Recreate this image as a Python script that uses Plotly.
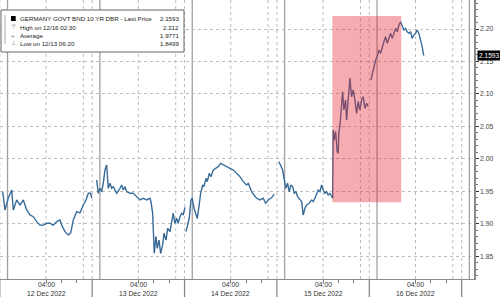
import plotly.graph_objects as go

# hours since 12 Dec 2022 00:00 and yield values (%), one list per session
hrs_d12 = [-7.25, -6.65, -5.79, -4.91, -4.49, -3.61, -2.75, -1.9, -1.01, -0.16, 0.7, 1.58, 2.44, 3.3,
           4.18, 5.04, 5.9, 6.78, 7.64, 8.08, 8.94, 9.79, 10.42, 11.09, 11.97, 12.83, 13.69, 14.39,
           14.99, 15.6, 15.87]
yld_d12 = [1.9495, 1.9213, 1.9398, 1.9521, 1.9213, 1.9367, 1.929, 1.9367, 1.9213, 1.9136, 1.911, 1.9033,
           1.898, 1.898, 1.9008, 1.9008, 1.898, 1.9033, 1.9059, 1.898, 1.8879, 1.8828, 1.886, 1.906,
           1.9187, 1.9167, 1.929, 1.9367, 1.947, 1.947, 1.9398]

hrs_d13 = [17.17, 17.58, 18.03, 18.47, 18.88, 19.32, 19.77, 19.92, 20.18, 20.62, 21.06, 21.48, 21.92,
           22.36, 23.22, 23.66, 24.08, 24.52, 24.96, 25.82, 26.68, 27.56, 28.42, 29.27, 30.16, 31.01,
           31.27, 31.71, 31.87, 32.13, 32.57, 32.91, 33.35, 33.79, 34.31, 34.65, 35.17, 35.61, 36.21,
           36.65, 37.06, 37.51, 37.95, 38.36, 38.81, 39.25, 39.66, 40.1]
yld_d13 = [1.9675, 1.947, 1.9547, 1.9495, 1.9624, 1.9829, 1.9906, 1.9726, 1.9547, 1.9624, 1.9547, 1.9572,
           1.952, 1.947, 1.9547, 1.9598, 1.952, 1.9572, 1.9495, 1.947, 1.947, 1.9418, 1.9367, 1.9393,
           1.9367, 1.9393, 1.934, 1.9162, 1.8905, 1.8546, 1.8802, 1.8623, 1.875, 1.8546, 1.8674, 1.8854,
           1.875, 1.8931, 1.8879, 1.9008, 1.9162, 1.9008, 1.9085, 1.9008, 1.911, 1.9162, 1.9136, 1.9254]

hrs_d14 = [40.36, 40.81, 41.22, 41.66, 42.0, 42.44, 42.96, 43.3, 43.74, 44.18, 44.7, 45.04, 45.56, 45.9,
           46.42, 46.86, 47.45, 48.16, 48.75, 49.38, 50.05, 50.94, 51.79, 52.65, 53.53, 54.39, 55.25,
           56.13, 56.55, 57.43, 58.03, 58.73, 59.58, 60.44, 61.06, 61.74, 62.36, 62.88, 63.22]
yld_d14 = [1.8879, 1.9008, 1.9085, 1.9367, 1.9393, 1.924, 1.9162, 1.9085, 1.9264, 1.947, 1.9598, 1.9572,
           1.97, 1.9649, 1.9778, 1.9726, 1.9829, 1.9855, 1.988, 1.9932, 1.9906, 1.988, 1.9855, 1.9829,
           1.9778, 1.9726, 1.9649, 1.9598, 1.9624, 1.9495, 1.9444, 1.9393, 1.9367, 1.9393, 1.9316,
           1.9367, 1.9393, 1.9418, 1.9459]

hrs_d15 = [64.52, 64.96, 65.48, 65.9, 66.34, 66.78, 67.19, 67.64, 68.08, 68.49, 68.94, 69.38, 69.97,
           70.42, 70.83, 71.27, 71.71, 72.39, 73.01, 73.43, 73.87, 74.31, 74.73, 75.17, 75.61, 76.03,
           76.47, 76.91, 77.32, 77.77, 78.21, 78.47, 78.62, 78.88, 79.25, 79.66, 79.92, 80.1, 80.36,
           80.81, 81.06, 81.4, 81.84, 82.1, 82.52, 82.96, 83.4, 83.82, 84.26, 84.7, 85.12, 85.56, 86.0,
           86.42, 86.86, 87.3, 87.71]
yld_d15 = [1.9957, 1.9906, 1.9829, 1.9675, 1.9547, 1.9624, 1.9495, 1.9598, 1.9572, 1.947, 1.9495, 1.9418,
           1.9367, 1.9342, 1.9136, 1.924, 1.929, 1.9316, 1.9367, 1.9342, 1.9393, 1.947, 1.952, 1.9495,
           1.9598, 1.952, 1.947, 1.9495, 1.9444, 1.947, 1.9418, 1.9393, 2.0445, 2.0291, 2.0419, 2.0111,
           2.0086, 2.0419, 2.0496, 2.0804, 2.1034, 2.0753, 2.0907, 2.0599, 2.0958, 2.1241, 2.0958,
           2.1061, 2.0907, 2.0702, 2.0881, 2.0753, 2.0907, 2.0958, 2.0779, 2.0856, 2.0804]

hrs_d16 = [88.42, 88.86, 89.19, 89.64, 90.05, 90.49, 90.93, 91.35, 91.79, 92.23, 92.65, 93.09, 93.53,
           93.95, 94.39, 94.83, 95.25, 95.69, 96.13, 96.55, 96.99, 97.43, 97.84, 98.29, 98.73, 99.14,
           99.58, 100.03, 100.44, 100.88, 101.32, 101.74, 102.0, 102.18]
yld_d16 = [2.1215, 2.1342, 2.142, 2.1523, 2.1574, 2.1677, 2.1626, 2.1728, 2.1804, 2.1881, 2.178, 2.1857,
           2.1933, 2.1857, 2.1933, 2.201, 2.1958, 2.2062, 2.2112, 2.2062, 2.1985, 2.201, 2.1958, 2.1933,
           2.1958, 2.1857, 2.1908, 2.1933, 2.1985, 2.1933, 2.1831, 2.1728, 2.1626, 2.1593]

day_labels = ["12 Dec 2022", "13 Dec 2022", "14 Dec 2022", "15 Dec 2022", "16 Dec 2022"]
y_ticks = [1.85, 1.90, 1.95, 2.00, 2.05, 2.10, 2.15, 2.20]
legend_rows = [("GERMANY GOVT BND 10 YR DBR - Last Price", "2.1593"),
               ("High on 12/16 02:30", "2.212"),
               ("Average", "1.9771"),
               ("Low on 12/13 06:20", "1.8499")]
last_price = 2.1593
highlight_x = [78.4, 96.3]
highlight_y = [1.9331, 2.220]

xs, ys = [], []
for h, v in [(hrs_d12, yld_d12), (hrs_d13, yld_d13), (hrs_d14, yld_d14), (hrs_d15, yld_d15), (hrs_d16, yld_d16)]:
    xs += h + [None]
    ys += v + [None]

FONT = "Liberation Sans, Arial, sans-serif"
fig = go.Figure()
fig.add_trace(go.Scatter(x=xs, y=ys, mode="lines", line=dict(color="#4a88bd", width=1.4),
                         connectgaps=False, hoverinfo="skip", showlegend=False))
fig.add_trace(go.Scatter(x=xs, y=ys, mode="lines", line=dict(color="rgba(20,25,35,0.5)", width=0.6),
                         connectgaps=False, hoverinfo="skip", showlegend=False))

shapes = []
for d in range(6):
    base = 24 * (d - 1)
    for hh in (base + 4, base + 13.7, base + 16):
        shapes.append(dict(type="line", xref="x", yref="paper", x0=hh, x1=hh, y0=0, y1=1,
                           line=dict(color="#bdbdbd", width=1, dash="dot"), layer="below"))
    shapes.append(dict(type="line", xref="x", yref="paper", x0=base + 18, x1=base + 18, y0=0, y1=1,
                       line=dict(color="#a0a0a0", width=1.3), layer="below"))
    shapes.append(dict(type="line", xref="x", yref="paper", x0=base + 16, x1=base + 16, y0=0, y1=-0.08,
                       line=dict(color="#8a8a8a", width=1.3), layer="below"))
shapes.append(dict(type="rect", xref="x", yref="y", x0=highlight_x[0], x1=highlight_x[1],
                   y0=highlight_y[0], y1=highlight_y[1], fillcolor="rgba(232,40,52,0.38)",
                   line=dict(width=0), layer="above"))
# legend box
PW, PH = 474.0, 279.0
def px(x): return x / PW
def py(y): return 1 - y / PH
shapes.append(dict(type="rect", xref="paper", yref="paper", x0=px(1), x1=px(184), y0=py(52), y1=py(10),
                   fillcolor="white", line=dict(color="#666", width=1), layer="above"))
shapes.append(dict(type="rect", xref="paper", yref="paper", x0=px(11), x1=px(15.7), y0=py(21), y1=py(16),
                   fillcolor="black", line=dict(width=0), layer="above"))
shapes.append(dict(type="line", xref="paper", yref="paper", x0=px(5), x1=px(5), y0=py(44), y1=py(15),
                   line=dict(color="#aaa", width=1), layer="above"))

ann = []
row_y = [19, 27.3, 35.7, 43.3]
icons = ["", "⊤", "+", "⊥"]
for (lbl, val), ry, ic in zip(legend_rows, row_y, icons):
    ann.append(dict(xref="paper", yref="paper", x=px(18.3), y=py(ry), text=lbl, showarrow=False,
                    xanchor="left", yanchor="middle", font=dict(family=FONT, size=6.2, color="#222")))
    ann.append(dict(xref="paper", yref="paper", x=px(181), y=py(ry), text=val, showarrow=False,
                    xanchor="right", yanchor="middle", font=dict(family=FONT, size=6.2, color="#222")))
    if ic:
        ann.append(dict(xref="paper", yref="paper", x=px(13), y=py(ry), text=ic, showarrow=False,
                        xanchor="center", yanchor="middle", font=dict(family=FONT, size=6, color="#777")))
for d, lbl in enumerate(day_labels):
    hx = 24 * d + 4
    ann.append(dict(xref="x", yref="paper", x=hx, y=py(284.7), text="04:00", showarrow=False,
                    xanchor="center", yanchor="middle", font=dict(family=FONT, size=6.8, color="#333")))
    ann.append(dict(xref="x", yref="paper", x=hx, y=py(293), text=lbl, showarrow=False,
                    xanchor="center", yanchor="middle", font=dict(family=FONT, size=6.8, color="#333")))
ann.append(dict(xref="paper", yref="y", x=px(477), y=last_price, text="2.1593", showarrow=False,
                xanchor="left", yanchor="middle", bgcolor="black", borderpad=1,
                font=dict(family=FONT, size=6.6, color="white")))

fig.update_layout(
    width=500, height=297, margin=dict(l=0, r=26, t=0, b=18),
    paper_bgcolor="white", plot_bgcolor="white", showlegend=False,
    shapes=shapes, annotations=ann,
    xaxis=dict(range=[-7.95, 115.2], showticklabels=False, showgrid=False, zeroline=False,
               showline=True, linecolor="#8a8a8a", linewidth=1.3,
               ticks="outside", ticklen=3, tickcolor="#777",
               tickvals=[24 * d + o for d in range(-1, 5) for o in (4, 8, 12)]),
    yaxis=dict(side="right", range=[1.815, 2.2447], tickvals=y_ticks,
               ticktext=[f"{v:.2f}" for v in y_ticks], showgrid=True, gridcolor="#bdbdbd",
               griddash="dot", gridwidth=1, zeroline=False, showline=True, linecolor="#8a8a8a",
               linewidth=1.5, ticks="outside", ticklen=3, tickcolor="#333",
               minor=dict(dtick=0.01, ticks="outside", ticklen=2, tickcolor="#777", showgrid=False),
               tickfont=dict(family=FONT, size=6.8, color="#444")),
)
fig.write_html("out.html")
